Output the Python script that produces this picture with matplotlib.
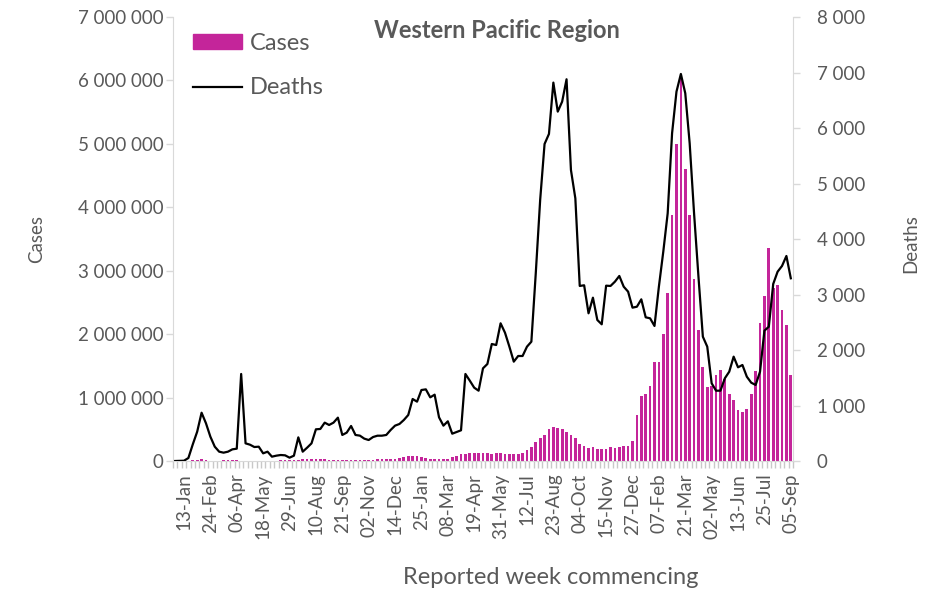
import numpy as np
import matplotlib
matplotlib.use('Agg')
import matplotlib.pyplot as plt
from matplotlib.patches import Patch
from matplotlib.lines import Line2D
from matplotlib.ticker import FuncFormatter, FixedLocator

# ── Data: weekly cases and deaths, week commencing 30-Dec-2019 to 05-Sep-2022 ──
cases = [
    0, 0, 1000, 3000, 12000, 18000, 25000, 12000, 5000, 4000,
    6000, 8000, 10000, 9000, 8000, 7000, 6000, 5000, 4000, 4000,
    4000, 5000, 6000, 7000, 8000, 10000, 12000, 15000, 20000, 25000,
    28000, 30000, 30000, 28000, 25000, 22000, 20000, 18000, 17000, 16000,
    16000, 17000, 18000, 19000, 20000, 22000, 25000, 28000, 32000, 35000,
    37000, 42000, 58000, 74000, 79000, 74000, 63000, 42000, 32000, 26000,
    26000, 26000, 37000, 58000, 84000, 105000, 116000, 121000, 126000, 126000,
    121000, 121000, 116000, 121000, 121000, 105000, 105000, 105000, 116000, 131000,
    173000, 226000, 305000, 357000, 410000, 499000, 541000, 520000, 504000, 452000,
    405000, 357000, 273000, 236000, 200000, 215000, 184000, 184000, 184000, 215000,
    200000, 215000, 236000, 236000, 320000, 725000, 1025000, 1051000, 1182000, 1556000,
    1556000, 2002000, 2643000, 3878000, 4998000, 6085000, 4598000, 3878000, 2864000, 2065000,
    1477000, 1172000, 1182000, 1356000, 1435000, 1288000, 1051000, 962000, 804000, 778000,
    815000, 1051000, 1424000, 2170000, 2600000, 3353000, 2720000, 2775000, 2380000, 2144000,
    1356000,
]
deaths = [
    0, 2, 5, 54, 300, 528, 870, 679, 438, 258,
    168, 150, 168, 210, 222, 1568, 318, 294, 252, 258,
    138, 168, 78, 96, 108, 102, 60, 96, 426, 168,
    240, 318, 571, 577, 691, 649, 691, 781, 469, 511,
    631, 469, 457, 403, 378, 432, 456, 456, 469, 559,
    637, 667, 739, 829, 1117, 1069, 1279, 1291, 1147, 1195,
    787, 637, 715, 492, 523, 553, 1568, 1447, 1321, 1267,
    1670, 1748, 2108, 2090, 2481, 2312, 2060, 1790, 1892, 1892,
    2060, 2150, 3382, 4703, 5712, 5893, 6818, 6295, 6475, 6878,
    5244, 4733, 3154, 3166, 2661, 2943, 2541, 2463, 3159, 3154,
    3231, 3334, 3141, 3051, 2763, 2780, 2913, 2589, 2571, 2433,
    3141, 3772, 4463, 5905, 6655, 6974, 6626, 5725, 4463, 3321,
    2240, 2060, 1400, 1267, 1267, 1490, 1609, 1880, 1688, 1730,
    1519, 1411, 1370, 1609, 2348, 2420, 3190, 3411, 3514, 3694,
    3292,
]
# label shown on every 6th week, starting with the third week
tick_labels = ['13-Jan', '24-Feb', '06-Apr', '18-May', '29-Jun', '10-Aug',
               '21-Sep', '02-Nov', '14-Dec', '25-Jan', '08-Mar', '19-Apr',
               '31-May', '12-Jul', '23-Aug', '04-Oct', '15-Nov', '27-Dec',
               '07-Feb', '21-Mar', '02-May', '13-Jun', '25-Jul', '05-Sep']

# ── Styling ─────────────────────────────────────────────────────────────
plt.rcParams['font.family'] = ['Lato', 'DejaVu Sans']
TXT = '#595959'
GRID = '#D9D9D9'
PINK = '#C4259A'

x = np.arange(len(cases))

fig = plt.figure(figsize=(9.33, 5.91), dpi=100)
ax = fig.add_axes([173/933, 1-461/591, 620/933, 444/591])
ax2 = ax.twinx()

ax.bar(x, cases, width=0.62, color=PINK, zorder=2)
ax2.plot(x, deaths, color='black', lw=1.6, zorder=3)

ax.set_xlim(-0.5, len(cases) - 0.5)
ax.set_ylim(0, 7000000)
ax2.set_ylim(0, 8000)
ax.set_yticks(np.arange(0, 7000001, 1000000))
ax2.set_yticks(np.arange(0, 8001, 1000))

fmt = FuncFormatter(lambda v, p: f'{int(v):,}'.replace(',', ' '))
ax.yaxis.set_major_formatter(fmt)
ax2.yaxis.set_major_formatter(fmt)

# x ticks: labels at category centres, small marks between categories
ax.xaxis.set_major_locator(FixedLocator(list(range(2, len(cases), 6))))
ax.set_xticklabels(tick_labels, rotation=90)
ax.xaxis.set_minor_locator(FixedLocator(np.arange(-0.5, len(cases), 1)))
ax.tick_params(axis='x', which='major', length=0, pad=9, labelsize=13.5, labelcolor=TXT)
ax.tick_params(axis='x', which='minor', length=5, width=1, color='#C8C8C8')

ax.tick_params(axis='y', length=5, width=1, color=GRID, pad=2, labelsize=13.5, labelcolor=TXT)
ax2.tick_params(axis='y', length=5, width=1, color=GRID, pad=12, labelsize=13.5, labelcolor=TXT)

for s in ['top', 'right']:
    ax.spines[s].set_visible(False)
for s in ['top', 'left', 'bottom']:
    ax2.spines[s].set_visible(False)
ax.spines['left'].set_color(GRID)
ax.spines['bottom'].set_color(GRID)
ax2.spines['right'].set_color(GRID)

ax.set_ylabel('Cases', fontsize=13.5, color=TXT)
ax.yaxis.set_label_coords(-0.207, 0.5)
ax2.set_ylabel('Deaths', fontsize=13.5, color=TXT)
ax2.yaxis.set_label_coords(1.176, 0.49)

fig.text(551/933, 1-578/591, 'Reported week commencing', fontsize=17,
         color=TXT, ha='center', va='center')
fig.text(497/933, 1-30/591, 'Western Pacific Region', fontsize=17,
         fontweight='bold', color=TXT, ha='center', va='center')

handles = [Patch(color=PINK), Line2D([], [], color='black', lw=1.6)]
ax2.legend(handles, ['Cases', 'Deaths'], loc='upper left',
           bbox_to_anchor=(0.013, 0.991), frameon=False, fontsize=17,
           borderpad=0, handlelength=2.1, handleheight=0.55,
           handletextpad=0.3, labelspacing=1.0, labelcolor=TXT)

plt.savefig('out.png', dpi=100)
